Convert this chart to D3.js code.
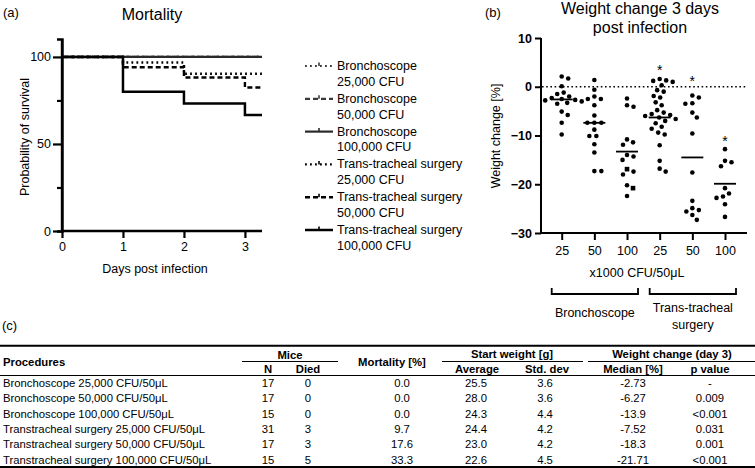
<!DOCTYPE html>
<html><head><meta charset="utf-8">
<script src="https://cdn.jsdelivr.net/npm/d3@7"></script>
<style>
body{margin:0;background:#fff}
svg{display:block}
text{font-family:"Liberation Sans",Arial,Helvetica,sans-serif;fill:#000}
</style>
</head><body>
<svg id="c" width="755" height="468"></svg>
<script>
// ===== Panel (a): survival data (percent alive at each day) =====
const days = [0, 1, 2, 3];
const survivalNames = [
  ["Bronchoscope", "25,000 CFU"],
  ["Bronchoscope", "50,000 CFU"],
  ["Bronchoscope", "100,000 CFU"],
  ["Trans-tracheal surgery", "25,000 CFU"],
  ["Trans-tracheal surgery", "50,000 CFU"],
  ["Trans-tracheal surgery", "100,000 CFU"]
];
const survB25  = [100, 100, 100, 100];
const survB50  = [100, 100, 100, 100];
const survB100 = [100, 100, 100, 100];
const survT25  = [100, 96.8, 90.3, 90.3];
const survT50  = [100, 94.1, 88.2, 82.4];
const survT100 = [100, 80.0, 73.3, 66.7];
const survTicks = [0, 50, 100];
const survMinorTicks = [25, 75];

// ===== Panel (b): weight change on day 3 (%) =====
const doseLabels = ["25", "50", "100", "25", "50", "100"];
const wB25  = [2.1, 1.7, 0.1, -1.2, -1.5, -2.0, -2.3, -2.5, -2.7, -2.8, -3.0, -3.3, -3.5, -5.1, -5.8, -7.4, -9.8];
const wB50  = [1.4, -0.6, -2.0, -2.5, -2.5, -3.8, -5.9, -7.4, -7.4, -7.4, -8.8, -10.1, -10.1, -11.8, -13.5, -17.3, -17.3];
const wB100 = [-2.4, -3.8, -4.1, -10.8, -11.4, -11.9, -14.0, -14.3, -15.0, -16.9, -17.4, -18.0, -20.2, -20.8, -22.4];
const wB100Square = [0, 0, 0, 0, 0, 0, 0, 0, 0, 1, 0, 0, 0, 1, 0];
const wT25  = [1.6, 1.3, 1.2, 1.0, 0.3, -0.7, -1.0, -1.9, -2.2, -3.2, -3.8, -4.8, -5.3, -5.6, -5.8, -6.0, -6.3, -6.6, -7.0, -7.5, -8.2, -8.6, -9.4, -9.8, -12.0, -15.2, -16.8, -17.4];
const wT50  = [-1.8, -2.2, -3.4, -3.5, -5.3, -6.3, -9.6, -17.6, -23.4, -24.9, -25.3, -25.6, -26.3, -27.3];
const wT100 = [-12.8, -15.2, -15.5, -16.3, -20.8, -21.9, -22.5, -22.8, -24.1, -26.7];
const medianLines = [-2.6, -7.4, -13.3, -6.3, -14.5, -19.9];
const starLevels = [null, null, null, 4.0, 1.7, -10.6];
const weightTicks = [10, 0, -10, -20, -30];

// ===== Panel (c): table =====
const procedures = [
  "Bronchoscope 25,000 CFU/50\u03bcL",
  "Bronchoscope 50,000 CFU/50\u03bcL",
  "Bronchoscope 100,000 CFU/50\u03bcL",
  "Transtracheal surgery 25,000 CFU/50\u03bcL",
  "Transtracheal surgery 50,000 CFU/50\u03bcL",
  "Transtracheal surgery 100,000 CFU/50\u03bcL"
];
const miceN = ["17", "17", "15", "31", "17", "15"];
const miceDied = ["0", "0", "0", "3", "3", "5"];
const mortalityPct = ["0.0", "0.0", "0.0", "9.7", "17.6", "33.3"];
const startAvg = ["25.5", "28.0", "24.3", "24.4", "23.0", "22.6"];
const startSd = ["3.6", "3.6", "4.4", "4.2", "4.2", "4.5"];
const medianPct = ["-2.73", "-6.27", "-13.9", "-7.52", "-18.3", "-21.71"];
const pValue = ["-", "0.009", "<0.001", "0.031", "0.001", "<0.001"];

const svg = d3.select("#c");
const FONT = 12.5;

// ---------------- Panel (a) ----------------
const ga = svg.append("g");
const xA = d3.scaleLinear().domain([0, 3.28]).range([62, 262]);
const yA = d3.scaleLinear().domain([0, 110.3]).range([231, 39]);

ga.append("text").attr("x", 3).attr("y", 12).attr("dominant-baseline", "central")
  .attr("font-size", 13).text("(a)");
ga.append("text").attr("x", 152).attr("y", 14).attr("text-anchor", "middle")
  .attr("dominant-baseline", "central").attr("font-size", 16).text("Mortality");

// axes
const axYA = ga.append("g").attr("transform", `translate(${xA(0)},0)`)
  .call(d3.axisLeft(yA).tickValues(survTicks).tickSize(9).tickPadding(2).tickFormat(d3.format("d")));
const axYAm = ga.append("g").attr("transform", `translate(${xA(0)},0)`)
  .call(d3.axisLeft(yA).tickValues(survMinorTicks).tickSize(5).tickFormat(""));
const axXA = ga.append("g").attr("transform", `translate(0,${yA(0)})`)
  .call(d3.axisBottom(xA).tickValues(days).tickSize(7).tickPadding(4).tickFormat(d3.format("d")));
[axYA, axYAm, axXA].forEach(a => {
  a.select(".domain").attr("stroke-width", 2.4).attr("stroke", "#000");
  a.selectAll(".tick line").attr("stroke-width", 2.2).attr("stroke", "#000");
  a.selectAll("text").attr("font-size", FONT).attr("font-family", "Liberation Sans, Arial, sans-serif").attr("fill", "#000");
});
axYA.select(".domain").attr("d", `M0,${yA(110.3)}V${yA(0)}`);
axXA.select(".domain").attr("d", `M${xA(0)},0H${xA(3.28)}`);

ga.append("text").attr("transform", `translate(25,137) rotate(-90)`).attr("text-anchor", "middle")
  .attr("dominant-baseline", "central").attr("font-size", FONT).text("Probability of survival");
ga.append("text").attr("x", 155).attr("y", 269).attr("text-anchor", "middle")
  .attr("dominant-baseline", "central").attr("font-size", FONT).text("Days post infection");

const survSeries = [survB25, survB50, survB100, survT25, survT50, survT100];
const survStyle = [
  {dash: "1.8,3.2", color: "#3a3a3a", w: 2.2},
  {dash: "5,3", color: "#3a3a3a", w: 2.2},
  {dash: null, color: "#2a2a2a", w: 2.2},
  {dash: "1.8,3.2", color: "#000", w: 2.4},
  {dash: "5,3", color: "#000", w: 2.4},
  {dash: null, color: "#000", w: 2.5}
];
const stepLine = d3.line().x(d => xA(d[0])).y(d => yA(d[1])).curve(d3.curveStepAfter);
survSeries.forEach((s, i) => {
  const pts = days.map((d, j) => [d, s[j]]);
  pts.push([3.28, s[s.length - 1]]);
  ga.append("path").attr("d", stepLine(pts)).attr("fill", "none")
    .attr("stroke", survStyle[i].color).attr("stroke-width", survStyle[i].w)
    .attr("stroke-dasharray", survStyle[i].dash);
});

// legend
const legY0 = 66, legStep = 32.8;
survivalNames.forEach((nm, i) => {
  const y = legY0 + i * legStep;
  const st = survStyle[i];
  ga.append("line").attr("x1", 305).attr("x2", 333).attr("y1", y).attr("y2", y)
    .attr("stroke", st.color).attr("stroke-width", st.w).attr("stroke-dasharray", st.dash);
  ga.append("line").attr("x1", 319).attr("x2", 319).attr("y1", y - 3.5).attr("y2", y)
    .attr("stroke", st.color).attr("stroke-width", 1.6);
  ga.append("text").attr("x", 337).attr("y", y).attr("dominant-baseline", "central")
    .attr("font-size", FONT).text(nm[0]);
  ga.append("text").attr("x", 337).attr("y", y + 15.7).attr("dominant-baseline", "central")
    .attr("font-size", FONT).text(nm[1]);
});

// ---------------- Panel (b) ----------------
const gb = svg.append("g");
const groupsB = [wB25, wB50, wB100, wT25, wT50, wT100];
const xB = d3.scalePoint().domain(d3.range(6)).range([561.7, 725]);
const yB = d3.scaleLinear().domain([-30, 10]).range([233, 38]);

gb.append("text").attr("x", 485).attr("y", 12).attr("dominant-baseline", "central")
  .attr("font-size", 13).text("(b)");
gb.append("text").attr("x", 640).attr("y", 8.5).attr("text-anchor", "middle")
  .attr("dominant-baseline", "central").attr("font-size", 16).text("Weight change 3 days");
gb.append("text").attr("x", 640).attr("y", 27).attr("text-anchor", "middle")
  .attr("dominant-baseline", "central").attr("font-size", 16).text("post infection");

const axYB = gb.append("g").attr("transform", `translate(541,0)`)
  .call(d3.axisLeft(yB).tickValues(weightTicks).tickSize(6).tickPadding(3).tickFormat(d3.format("d")));
const axXB = gb.append("g").attr("transform", `translate(0,${yB(-30)})`)
  .call(d3.axisBottom(xB).tickSize(7).tickPadding(6).tickFormat(i => doseLabels[i]));
[axYB, axXB].forEach(a => {
  a.select(".domain").attr("stroke-width", 2).attr("stroke", "#000");
  a.selectAll(".tick line").attr("stroke-width", 2).attr("stroke", "#000");
  a.selectAll("text").attr("font-size", FONT).attr("font-family", "Liberation Sans, Arial, sans-serif").attr("fill", "#000");
});
axYB.selectAll("text").attr("font-weight", "bold");
axYB.select(".domain").attr("d", `M0,${yB(10)}V${yB(-30)}`);
axXB.select(".domain").attr("d", `M541,0H747`);

gb.append("text").attr("transform", `translate(496,136) rotate(-90)`).attr("text-anchor", "middle")
  .attr("dominant-baseline", "central").attr("font-size", FONT).text("Weight change [%]");
gb.append("text").attr("x", 637).attr("y", 273).attr("text-anchor", "middle")
  .attr("dominant-baseline", "central").attr("font-size", FONT).text("x1000 CFU/50\u03bcL");

// zero reference line
gb.append("line").attr("x1", 542).attr("x2", 747).attr("y1", yB(0)).attr("y2", yB(0))
  .attr("stroke", "#000").attr("stroke-width", 1.6).attr("stroke-dasharray", "1.6,2.6");

// beeswarm placement
const R = 2.3, MIND = 6.6;
function swarm(vals) {
  const order = d3.range(vals.length).sort((a, b) => vals[b] - vals[a]);
  const placed = [];
  const out = new Array(vals.length);
  order.forEach(idx => {
    const y = yB(vals[idx]);
    let off = 0, found = false;
    for (let k = 0; k < 200 && !found; k++) {
      const cands = k === 0 ? [0] : [k * 0.5, -k * 0.5];
      for (const c of cands) {
        if (placed.every(p => (p.x - c) ** 2 + (p.y - y) ** 2 >= MIND * MIND)) {
          off = c; found = true; break;
        }
      }
    }
    placed.push({x: off, y});
    out[idx] = off;
  });
  return out;
}
groupsB.forEach((vals, g) => {
  const offs = swarm(vals);
  const cx = xB(g);
  vals.forEach((v, i) => {
    const isSq = g === 2 && wB100Square[i] === 1;
    if (isSq) {
      gb.append("rect").attr("x", cx + offs[i] - R).attr("y", yB(v) - R)
        .attr("width", 2 * R).attr("height", 2 * R).attr("fill", "#000");
    } else {
      gb.append("circle").attr("cx", cx + offs[i]).attr("cy", yB(v)).attr("r", R).attr("fill", "#000");
    }
  });
  gb.append("line").attr("x1", cx - 11).attr("x2", cx + 11)
    .attr("y1", yB(medianLines[g])).attr("y2", yB(medianLines[g]))
    .attr("stroke", "#000").attr("stroke-width", 1.8);
  if (starLevels[g] !== null) {
    gb.append("text").attr("x", cx).attr("y", yB(starLevels[g]) + 8).attr("text-anchor", "middle")
      .attr("font-size", 14).text("*");
  }
});

// group brackets
const brackets = [
  {from: 0, to: 2, lines: ["Bronchoscope"], ly: 313},
  {from: 3, to: 5, lines: ["Trans-tracheal", "surgery"], ly: 308}
];
brackets.forEach(b => {
  const x1 = xB(b.from) - 10, x2 = xB(b.to) + 11;
  gb.append("path").attr("d", `M${x1},288V294H${x2}V288`).attr("fill", "none")
    .attr("stroke", "#000").attr("stroke-width", 1.8);
  b.lines.forEach((t, k) => {
    gb.append("text").attr("x", (x1 + x2) / 2).attr("y", b.ly + k * 16.5).attr("text-anchor", "middle")
      .attr("dominant-baseline", "central").attr("font-size", FONT).text(t);
  });
});

// ---------------- Panel (c) ----------------
const gc = svg.append("g");
const TF = 11.3;
gc.append("text").attr("x", 2).attr("y", 325).attr("dominant-baseline", "central")
  .attr("font-size", 13).text("(c)");
gc.append("line").attr("x1", 0).attr("x2", 755).attr("y1", 345.8).attr("y2", 345.8)
  .attr("stroke", "#000").attr("stroke-width", 2);
gc.append("line").attr("x1", 0).attr("x2", 755).attr("y1", 375.5).attr("y2", 375.5)
  .attr("stroke", "#000").attr("stroke-width", 1.1);
gc.append("line").attr("x1", 0).attr("x2", 755).attr("y1", 467).attr("y2", 467)
  .attr("stroke", "#000").attr("stroke-width", 1.8);

function tt(x, y, s, anchor, bold) {
  gc.append("text").attr("x", x).attr("y", y).attr("text-anchor", anchor)
    .attr("dominant-baseline", "central").attr("font-size", TF)
    .attr("font-weight", bold ? "bold" : "normal").text(s);
}
// headers
tt(3, 361.5, "Procedures", "start", true);
tt(290, 354.5, "Mice", "middle", true);
gc.append("line").attr("x1", 242).attr("x2", 338).attr("y1", 361.5).attr("y2", 361.5).attr("stroke", "#000").attr("stroke-width", 1.1);
tt(268, 368.5, "N", "middle", true);
tt(308, 368.5, "Died", "middle", true);
tt(392, 361.5, "Mortality [%]", "middle", true);
tt(512, 354, "Start weight [g]", "middle", true);
gc.append("line").attr("x1", 442).attr("x2", 583).attr("y1", 361.5).attr("y2", 361.5).attr("stroke", "#000").attr("stroke-width", 1.1);
tt(477, 368.5, "Average", "middle", true);
tt(547, 368.5, "Std. dev", "middle", true);
tt(672, 354, "Weight change (day 3)", "middle", true);
gc.append("line").attr("x1", 588).attr("x2", 755).attr("y1", 361.5).attr("y2", 361.5).attr("stroke", "#000").attr("stroke-width", 1.1);
tt(633, 368.5, "Median [%]", "middle", true);
tt(710, 368.5, "p value", "middle", true);

const rowY = d3.scaleLinear().domain([0, 5]).range([383, 459.8]);
procedures.forEach((p, i) => {
  const y = rowY(i);
  tt(3, y, p, "start", false);
  tt(268, y, miceN[i], "middle", false);
  tt(308, y, miceDied[i], "middle", false);
  tt(402, y, mortalityPct[i], "middle", false);
  tt(476, y, startAvg[i], "middle", false);
  tt(545, y, startSd[i], "middle", false);
  tt(633, y, medianPct[i], "middle", false);
  tt(710, y, pValue[i], "middle", false);
});
</script>
</body></html>
